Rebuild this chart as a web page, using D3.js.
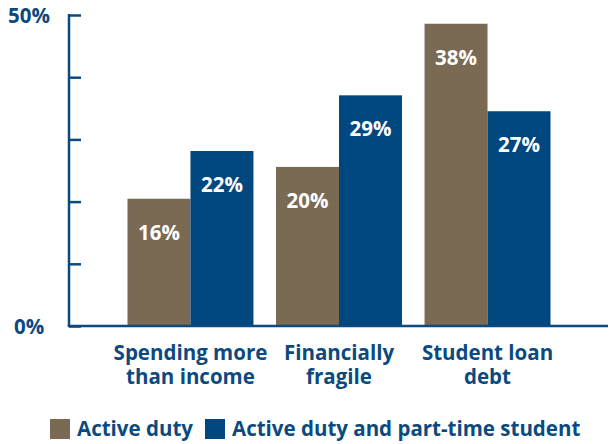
<!DOCTYPE html>
<html>
<head>
<meta charset="utf-8">
<script src="https://cdn.jsdelivr.net/npm/d3@7"></script>
<style>
  html, body { margin: 0; padding: 0; background: #fff; }
  svg { display: block; }
  text { font-family: "Open Sans", "Noto Sans", sans-serif; font-weight: 700; }
</style>
</head>
<body>
<svg id="chart" width="611" height="444"></svg>
<script>
// Categories (two-line labels) and series
const categories = ["Spending more than income", "Financially fragile", "Student loan debt"];
const categoryLines = [["Spending more", "than income"], ["Financially", "fragile"], ["Student loan", "debt"]];
const seriesNames = ["Active duty", "Active duty and part-time student"];
const activeDuty = [16, 20, 38];
const activeDutyStudent = [22, 29, 27];
const tickLabels = ["0%", "", "", "", "", "50%"];
const colors = ["#7a6953", "#00467f"];
const yMax = 39.1;

const ink = "#0b4a80";
const fontSize = 20.5;
const svg = d3.select("#chart");

const plot = { left: 69, top: 15, bottom: 326, right: 608 };

const x0 = d3.scaleBand().domain(categories).range([127.5, 550.5]).paddingInner(0.152).paddingOuter(0);
const x1 = d3.scaleBand().domain(seriesNames).range([0, x0.bandwidth()]);
const y = d3.scaleLinear().domain([0, yMax]).range([plot.bottom, plot.top]);

const rows = categories.map((c, i) => ({
  category: c,
  values: [
    { series: seriesNames[0], value: activeDuty[i] },
    { series: seriesNames[1], value: activeDutyStudent[i] }
  ]
}));

// Bars
const groups = svg.append("g").selectAll("g").data(rows).join("g")
  .attr("transform", d => `translate(${x0(d.category)},0)`);

groups.selectAll("rect").data(d => d.values).join("rect")
  .attr("x", d => x1(d.series))
  .attr("y", d => y(d.value))
  .attr("width", x1.bandwidth())
  .attr("height", d => y(0) - y(d.value))
  .attr("fill", (d, i) => colors[i]);

groups.selectAll("text.val").data(d => d.values).join("text")
  .attr("class", "val")
  .attr("x", d => x1(d.series) + x1.bandwidth() / 2)
  .attr("y", d => y(d.value) + 41)
  .attr("text-anchor", "middle")
  .attr("fill", "#fff")
  .attr("font-size", fontSize)
  .text(d => d.value + "%");

// Y axis with inward ticks
const yAxis = d3.axisLeft(y)
  .tickValues(d3.range(6).map(i => yMax * i / 5))
  .tickSizeInner(-12)
  .tickSizeOuter(0)
  .tickFormat((d, i) => tickLabels[i]);

const ya = svg.append("g").attr("transform", `translate(${plot.left},0)`).call(yAxis);
ya.select(".domain").attr("stroke", ink).attr("stroke-width", 2.5)
  .attr("d", `M0,${plot.top - 1}V${plot.bottom}`);
ya.selectAll(".tick line").attr("stroke", ink).attr("stroke-width", 2.5);
ya.selectAll(".tick text")
  .attr("x", -40)
  .attr("dy", "0.36em")
  .attr("text-anchor", "middle")
  .attr("fill", ink)
  .attr("font-size", fontSize)
  .style("font-family", "'Open Sans', sans-serif")
  .style("font-weight", 700);

// Baseline
svg.append("line")
  .attr("x1", plot.left - 1.25).attr("x2", plot.right)
  .attr("y1", y(0)).attr("y2", y(0))
  .attr("stroke", ink).attr("stroke-width", 2.5);

// Category labels, one text per line
const catLines = categories.flatMap((c, i) =>
  categoryLines[i].map((line, j) => ({ category: c, line, row: j })));
svg.append("g").selectAll("text").data(catLines).join("text")
  .attr("x", d => x0(d.category) + x0.bandwidth() / 2)
  .attr("y", d => 360 + d.row * 24)
  .attr("text-anchor", "middle")
  .attr("fill", ink)
  .attr("font-size", fontSize)
  .text(d => d.line);

// Legend
const legendX = [50, 205];
const legend = svg.append("g").selectAll("g").data(seriesNames).join("g")
  .attr("transform", (d, i) => `translate(${legendX[i]},419)`);
legend.append("rect").attr("width", 20).attr("height", 20).attr("fill", (d, i) => colors[i]);
legend.append("text")
  .attr("x", 27).attr("y", 17)
  .attr("fill", ink)
  .attr("font-size", fontSize)
  .text(d => d);
</script>
</body>
</html>
